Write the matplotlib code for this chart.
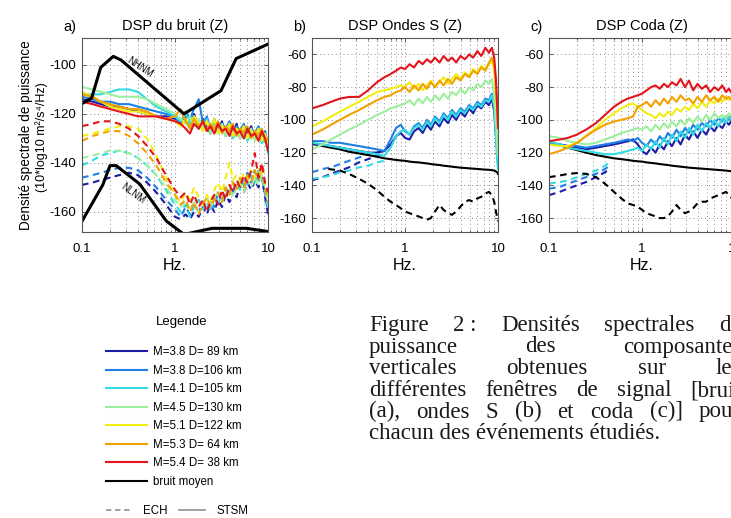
import matplotlib
matplotlib.use("Agg")
import matplotlib.pyplot as plt
from matplotlib.lines import Line2D

plt.rcParams['font.family'] = ['Liberation Sans', 'DejaVu Sans']
plt.rcParams['axes.unicode_minus'] = False

# ---------------- data (dB, 10*log10 m2/s4/Hz) ----------------
labels = ["M=3.8 D= 89 km", "M=3.8 D=106 km", "M=4.1 D=105 km", "M=4.5 D=130 km",
          "M=5.1 D=122 km", "M=5.3 D= 64 km", "M=5.4 D= 38 km"]
colors = ["#1c1ca8", "#1f7fe6", "#33dbe0", "#9cef9c", "#f2ee10", "#f2a200", "#e3141c"]

# Peterson noise models
nhnm_f = [0.1, 0.127, 0.159, 0.217, 0.263, 1.25, 3.125, 4.545, 10.0]
nhnm_db = [-115.8, -113.5, -101.0, -96.5, -98.0, -120.0, -110.5, -97.4, -91.5]
nlnm_f = [0.1, 0.167, 0.2, 0.233, 0.417, 0.806, 1.25, 2.5, 5.88, 10.0]
nlnm_db = [-163.8, -149.0, -141.1, -141.1, -148.6, -163.7, -169.2, -166.7, -166.7, -168.0]

# panel a : noise window
fa = [0.10, 0.13, 0.16, 0.20, 0.25, 0.32, 0.40, 0.50, 0.63, 0.80, 1.00, 1.15, 1.30, 1.45,
      1.60, 1.80, 2.00, 2.20, 2.40, 2.65, 2.90, 3.20, 3.50, 3.85, 4.20, 4.60, 5.00, 5.50,
      6.00, 6.60, 7.20, 7.90, 8.60, 9.30, 10.0]
a_stsm = [
    [-114, -115, -116, -117, -117, -118, -119, -120, -121, -121, -122, -123, -121, -125, -120, -126, -122, -125, -128, -124, -127, -123, -129, -125, -128, -124, -130, -126, -128, -125, -130, -127, -131, -128, -134],
    [-113, -114, -115, -115, -116, -116, -117, -118, -119, -120, -121, -124, -119, -122, -118, -114, -124, -121, -126, -122, -127, -124, -126, -123, -128, -125, -127, -124, -129, -126, -128, -125, -130, -127, -133],
    [-112, -112, -112, -111, -110, -110, -111, -114, -117, -119, -121, -123, -120, -124, -121, -124, -126, -122, -127, -124, -128, -125, -129, -126, -130, -127, -129, -126, -131, -128, -130, -127, -132, -130, -136],
    [-109, -110, -111, -112, -113, -113, -113, -114, -116, -118, -120, -122, -124, -121, -125, -122, -126, -123, -128, -125, -127, -124, -129, -125, -128, -126, -130, -127, -129, -126, -131, -128, -130, -129, -135],
    [-111, -113, -115, -117, -118, -119, -119, -120, -121, -122, -123, -125, -122, -126, -121, -124, -127, -123, -126, -122, -128, -125, -127, -124, -129, -126, -128, -125, -130, -127, -129, -126, -131, -128, -133],
    [-112, -113, -115, -116, -117, -118, -118, -119, -121, -122, -121, -118, -123, -126, -122, -125, -123, -127, -124, -126, -123, -128, -125, -127, -124, -129, -126, -128, -125, -130, -127, -129, -126, -131, -130],
    [-115, -116, -117, -118, -119, -120, -121, -121, -121, -122, -123, -124, -126, -128, -124, -126, -123, -127, -125, -128, -124, -127, -126, -129, -125, -128, -127, -130, -126, -129, -128, -131, -127, -130, -135],
]
a_ech = [
    [-149, -148, -147, -146, -145, -144, -145, -148, -152, -157, -162, -163, -161, -163, -160, -162, -158, -161, -157, -160, -155, -158, -153, -156, -151, -154, -149, -152, -148, -151, -147, -150, -146, -154, -161],
    [-146, -145, -144, -143, -142, -142, -143, -146, -150, -155, -159, -162, -158, -161, -157, -160, -156, -159, -155, -158, -152, -156, -150, -153, -148, -151, -146, -150, -144, -148, -143, -147, -145, -153, -160],
    [-141, -139, -137, -136, -135, -136, -138, -141, -145, -151, -157, -160, -157, -162, -158, -155, -159, -156, -160, -154, -157, -152, -155, -150, -153, -148, -151, -146, -149, -145, -148, -143, -147, -152, -158],
    [-138, -137, -136, -135, -135, -136, -138, -141, -145, -150, -155, -158, -155, -159, -156, -160, -157, -154, -158, -155, -152, -156, -153, -150, -154, -150, -148, -152, -147, -150, -146, -149, -145, -150, -157],
    [-129, -128, -127, -126, -125, -125, -126, -130, -137, -146, -153, -156, -152, -155, -150, -154, -157, -153, -156, -151, -148, -152, -146, -140, -147, -145, -149, -144, -147, -143, -146, -142, -145, -148, -152],
    [-131, -129, -128, -127, -127, -129, -132, -136, -141, -148, -153, -157, -155, -160, -156, -161, -157, -154, -158, -155, -152, -156, -150, -153, -148, -151, -146, -150, -145, -148, -143, -147, -142, -150, -156],
    [-125, -124, -123, -123, -124, -126, -129, -133, -138, -145, -151, -154, -152, -157, -153, -158, -155, -160, -156, -153, -157, -151, -155, -149, -152, -147, -150, -145, -148, -143, -136, -146, -140, -148, -152],
]

# panel b : S waves
fb = [0.10, 0.13, 0.16, 0.20, 0.25, 0.32, 0.40, 0.50, 0.60, 0.70, 0.80, 0.90, 1.00, 1.12,
      1.25, 1.40, 1.55, 1.72, 1.90, 2.10, 2.35, 2.60, 2.90, 3.20, 3.55, 3.95, 4.40, 4.90,
      5.40, 6.00, 6.60, 7.30, 8.00, 8.60, 9.10, 9.50, 9.80, 10.0]
b_stsm = [
    [-115, -115, -116, -117, -118, -119, -120, -120, -119, -115, -110, -108, -111, -112, -107, -105, -108, -103, -106, -101, -104, -99, -102, -97, -100, -95, -98, -93, -96, -91, -93, -89, -91, -87, -95, -110, -120, -125],
    [-113, -113, -114, -114, -115, -116, -117, -118, -119, -112, -105, -103, -107, -109, -104, -102, -105, -100, -103, -98, -101, -96, -99, -94, -97, -93, -95, -91, -93, -89, -91, -87, -88, -84, -90, -105, -118, -122],
    [-114, -115, -116, -117, -118, -119, -120, -121, -122, -117, -110, -107, -106, -109, -105, -103, -106, -101, -104, -99, -102, -97, -100, -95, -98, -94, -96, -92, -94, -90, -92, -88, -89, -85, -92, -110, -125, -130],
    [-118, -115, -112, -109, -106, -103, -100, -97, -95, -93, -92, -91, -90, -88, -91, -87, -90, -86, -89, -85, -88, -84, -87, -83, -85, -81, -84, -80, -82, -78, -80, -76, -78, -75, -85, -100, -115, -122],
    [-104, -101, -98, -95, -92, -89, -86, -83, -82, -81, -80, -79, -80, -77, -81, -78, -82, -79, -76, -80, -77, -74, -78, -75, -72, -75, -71, -73, -69, -71, -67, -69, -66, -64, -70, -85, -98, -105],
    [-109, -106, -103, -100, -97, -94, -91, -88, -86, -85, -83, -82, -80, -83, -79, -82, -78, -81, -77, -80, -76, -79, -75, -78, -74, -76, -72, -74, -70, -72, -68, -70, -65, -62, -66, -80, -92, -100],
    [-93, -91, -89, -87, -86, -86, -82, -77, -74, -72, -70, -68, -69, -66, -68, -64, -66, -63, -65, -62, -65, -61, -64, -62, -65, -61, -63, -60, -62, -58, -61, -56, -59, -56, -62, -75, -92, -105],
]
fb_ech = [0.10, 0.13, 0.16, 0.20, 0.25, 0.32, 0.40, 0.50, 0.60]
b_ech = [
    [-137, -135, -133, -131, -129, -126, -124, -122, -121],
    [-132, -130, -129, -127, -125, -123, -121, -120, -119],
    [-136, -135, -134, -132, -131, -129, -128, -126, -125],
]
b_noise = [-114.5, -116, -117, -118, -119.5, -120.5, -121.5, -122.5, -123.5, -124, -124.5, -124.8, -125, -125.5, -125.8, -126, -126.3, -126.6, -127, -127.3, -127.6, -128, -128.3, -128.6, -128.9, -129.2, -129.4, -129.6, -129.8, -130, -130.2, -130.4, -130.5, -130.7, -131, -131.5, -132, -133]
fb_nech = [0.15, 0.20, 0.25, 0.32, 0.40, 0.50, 0.60, 0.70, 0.80, 0.90, 1.00, 1.12, 1.25, 1.40,
           1.55, 1.72, 1.90, 2.10, 2.35, 2.60, 2.90, 3.20, 3.55, 3.95, 4.40, 4.90, 5.40, 6.00,
           6.60, 7.30, 8.00, 8.60, 9.10, 9.50, 10.0]
b_noise_ech = [-130, -131, -133, -136, -139, -143, -147, -150, -152, -154, -156, -157, -158, -159, -160, -161, -160, -156, -152, -155, -157, -158, -156, -153, -150, -149, -150, -148, -147, -145, -144, -146, -150, -156, -162]

# panel c : coda
fc = [0.10, 0.13, 0.16, 0.20, 0.25, 0.32, 0.40, 0.50, 0.60, 0.70, 0.80, 0.90, 1.00, 1.12,
      1.25, 1.40, 1.55, 1.72, 1.90, 2.10, 2.35, 2.60, 2.90, 3.20, 3.55, 3.95, 4.40, 4.90,
      5.40, 6.00, 6.60, 7.30, 8.00, 8.60, 9.30, 10.0]
c_stsm = [
    [-114, -115, -116, -117, -118, -117, -116, -115, -114, -113, -112, -115, -119, -121, -117, -120, -115, -118, -113, -116, -111, -115, -109, -112, -107, -111, -106, -109, -104, -107, -103, -105, -101, -103, -100, -101],
    [-114, -115, -116, -116, -117, -116, -115, -114, -113, -112, -113, -111, -114, -116, -112, -115, -110, -113, -108, -111, -106, -110, -105, -108, -103, -106, -102, -104, -100, -103, -99, -101, -98, -100, -97, -98],
    [-113, -115, -117, -118, -119, -120, -121, -121, -120, -119, -118, -117, -119, -115, -118, -113, -117, -111, -115, -109, -113, -107, -111, -105, -109, -103, -107, -102, -105, -100, -104, -99, -102, -98, -100, -99],
    [-110, -111, -113, -114, -115, -114, -112, -110, -108, -107, -106, -105, -106, -104, -107, -103, -106, -102, -105, -101, -104, -100, -103, -99, -102, -98, -101, -97, -100, -96, -99, -97, -99, -96, -98, -97],
    [-115, -116, -116, -114, -110, -105, -100, -96, -93, -91, -90, -92, -94, -96, -97, -99, -96, -98, -95, -97, -93, -95, -92, -94, -90, -93, -89, -92, -88, -90, -87, -89, -86, -88, -87, -88],
    [-121, -119, -117, -114, -110, -106, -103, -101, -100, -99, -98, -92, -91, -89, -92, -88, -91, -87, -90, -86, -89, -85, -88, -87, -90, -86, -89, -85, -88, -86, -89, -85, -87, -86, -88, -87],
    [-113, -112, -111, -109, -106, -102, -97, -92, -89, -87, -86, -85, -84, -82, -80, -79, -81, -78, -80, -77, -79, -75, -80, -76, -82, -78, -81, -79, -83, -80, -82, -79, -83, -81, -84, -82],
]
fc_ech = [0.10, 0.13, 0.16, 0.20, 0.25, 0.32, 0.40, 0.45]
c_ech = [
    [-146, -144, -142, -140, -138, -135, -132, -130],
    [-142, -141, -139, -137, -135, -133, -130, -128],
    [-139, -138, -137, -135, -133, -131, -128, -126],
]
c_noise = [-114, -115.5, -117, -118.5, -120, -121.5, -122.5, -123.5, -124, -124.5, -125, -125.3, -125.5, -126, -126.3, -126.6, -127, -127.3, -127.6, -128, -128.3, -128.6, -128.9, -129.2, -129.4, -129.6, -129.8, -130, -130.2, -130.4, -130.6, -130.8, -131, -131.2, -131.4, -131.6]
c_noise_ech = [-135, -134, -133, -132.5, -133, -135, -139, -144, -148, -151, -152, -153, -155, -157, -158, -159, -160, -160, -159, -156, -152, -155, -157, -156, -154, -151, -150, -150, -148, -147, -146, -145, -144, -146, -148, -150]

caption = ["Figure 2\u00a0: Densités spectrales de",
           "puissance des composantes",
           "verticales obtenues sur les",
           "différentes fenêtres de signal [bruit",
           "(a), ondes S (b) et coda (c)] pour",
           "chacun des événements étudiés."]

# ---------------- figure ----------------
W, H = 731, 518
fig = plt.figure(figsize=(W / 100, H / 100), dpi=100)


def box(x0, y0, x1, y1):
    return [x0 / W, 1 - y1 / H, (x1 - x0) / W, (y1 - y0) / H]


DASH = (0, (3.2, 2.2))
LW = 1.5


def setup(ax, ylim, yticks, letter, title):
    ax.set_xscale('log')
    ax.set_xlim(0.1, 10)
    ax.set_ylim(*ylim)
    ax.set_yticks(yticks)
    ax.set_xticks([0.1, 1, 10])
    ax.set_xticklabels(['0.1', '1', '10'])
    ax.grid(True, which='both', axis='x', ls=(0, (1, 3)), color='#8c8c8c', lw=0.7)
    ax.grid(True, which='major', axis='y', ls=(0, (1, 3)), color='#8c8c8c', lw=0.7)
    ax.tick_params(which='both', direction='in', top=True, right=True, labelsize=9.5,
                   length=3, width=0.6, color='#444444')
    ax.tick_params(axis='x', which='minor', length=1.5)
    ax.tick_params(axis='x', pad=8)
    ax.tick_params(axis='y', pad=4)
    for s in ax.spines.values():
        s.set_color('#555555')
        s.set_linewidth(0.8)
    ax.set_xlabel('Hz.', fontsize=11.5, labelpad=2)
    ax.set_title(title, fontsize=10.5, pad=6)
    ax.text(-0.065, 1.035, letter, transform=ax.transAxes, fontsize=10.5, ha='center')


# panel a
ax = fig.add_axes(box(82, 38, 268, 232))
for v, c in zip(a_ech, colors):
    ax.plot(fa, v, color=c, lw=LW, ls=DASH)
for v, c in zip(a_stsm, colors):
    ax.plot(fa, v, color=c, lw=LW)
ax.plot(nhnm_f, nhnm_db, color='black', lw=2.2)
ax.plot(nlnm_f, nlnm_db, color='black', lw=2.2)
ax.text(0.42, -101, 'NHNM', rotation=-33, fontsize=7, ha='center', va='center')
ax.text(0.35, -152.5, 'NLNM', rotation=-36, fontsize=7, ha='center', va='center')
setup(ax, (-168.2, -89), [-160, -140, -120, -100], 'a)', 'DSP du bruit (Z)')

# panel b
ax = fig.add_axes(box(312, 38, 498, 232))
for v, c in zip(b_ech, colors):
    ax.plot(fb_ech, v, color=c, lw=LW, ls=DASH)
ax.plot(fb_nech, b_noise_ech, color='black', lw=LW, ls=DASH)
ax.plot(fb, b_noise, color='black', lw=LW)
for v, c in zip(b_stsm, colors):
    ax.plot(fb, v, color=c, lw=LW)
setup(ax, (-168.5, -50), [-160, -140, -120, -100, -80, -60], 'b)', 'DSP Ondes S (Z)')

# panel c (cut by the page edge)
ax = fig.add_axes(box(549, 38, 735, 232))
for v, c in zip(c_ech, colors):
    ax.plot(fc_ech, v, color=c, lw=LW, ls=DASH)
ax.plot(fc, c_noise_ech, color='black', lw=LW, ls=DASH)
ax.plot(fc, c_noise, color='black', lw=LW)
for v, c in zip(c_stsm, colors):
    ax.plot(fc, v, color=c, lw=LW)
setup(ax, (-168.5, -50), [-160, -140, -120, -100, -80, -60], 'c)', 'DSP Coda (Z)')

# y label
fig.text(26 / W, 1 - 135 / H, 'Densité spectrale de puissance', rotation=90,
         ha='center', va='center', fontsize=9.8)
fig.text(42 / W, 1 - 137 / H, '(10*log10 m\u00b2/s\u2074/Hz)', rotation=90,
         ha='center', va='center', fontsize=9)

# legend
fig.text(182 / W, 1 - 322 / H, 'Legende', ha='center', va='center', fontsize=9.5)
handles = [Line2D([], [], color=c, lw=1.5) for c in colors]
handles.append(Line2D([], [], color='black', lw=1.5))
leg = fig.legend(handles, labels + ['bruit moyen'], loc='upper left',
                 bbox_to_anchor=(96 / W, 1 - 336 / H), frameon=False, fontsize=8.3,
                 handlelength=3.5, handletextpad=0.55, labelspacing=0.56)
gray = '#9a9a9a'
leg2 = fig.legend([Line2D([], [], color=gray, lw=1.3, ls=(0, (3, 2))),
                   Line2D([], [], color=gray, lw=1.3)], ['ECH', 'STSM'],
                  loc='upper left', bbox_to_anchor=(96 / W, 1 - 495 / H), frameon=False,
                  fontsize=8.3, ncol=2, handlelength=2.2, handletextpad=1.0,
                  columnspacing=1.0)

# caption, justified
cap_font = dict(family=['Liberation Serif', 'DejaVu Serif'], fontsize=16.5, color='#1a1a1a')
cap_x0, cap_x1 = 369, 741
base = [331, 352.5, 374, 396, 417.5, 439]
r = fig.canvas.get_renderer()
for i, line in enumerate(caption):
    y = 1 - base[i] / H
    if i == len(caption) - 1:
        fig.text(cap_x0 / W, y, line, va='baseline', **cap_font)
        continue
    words = line.split(' ')
    ts = [fig.text(0, y, w, va='baseline', **cap_font) for w in words]
    ws = [t.get_window_extent(r).width for t in ts]
    gap = (cap_x1 - cap_x0 - sum(ws)) / (len(words) - 1)
    x = cap_x0
    for t, w in zip(ts, ws):
        t.set_x(x / W)
        x += w + gap

fig.savefig('out.png', dpi=100)
